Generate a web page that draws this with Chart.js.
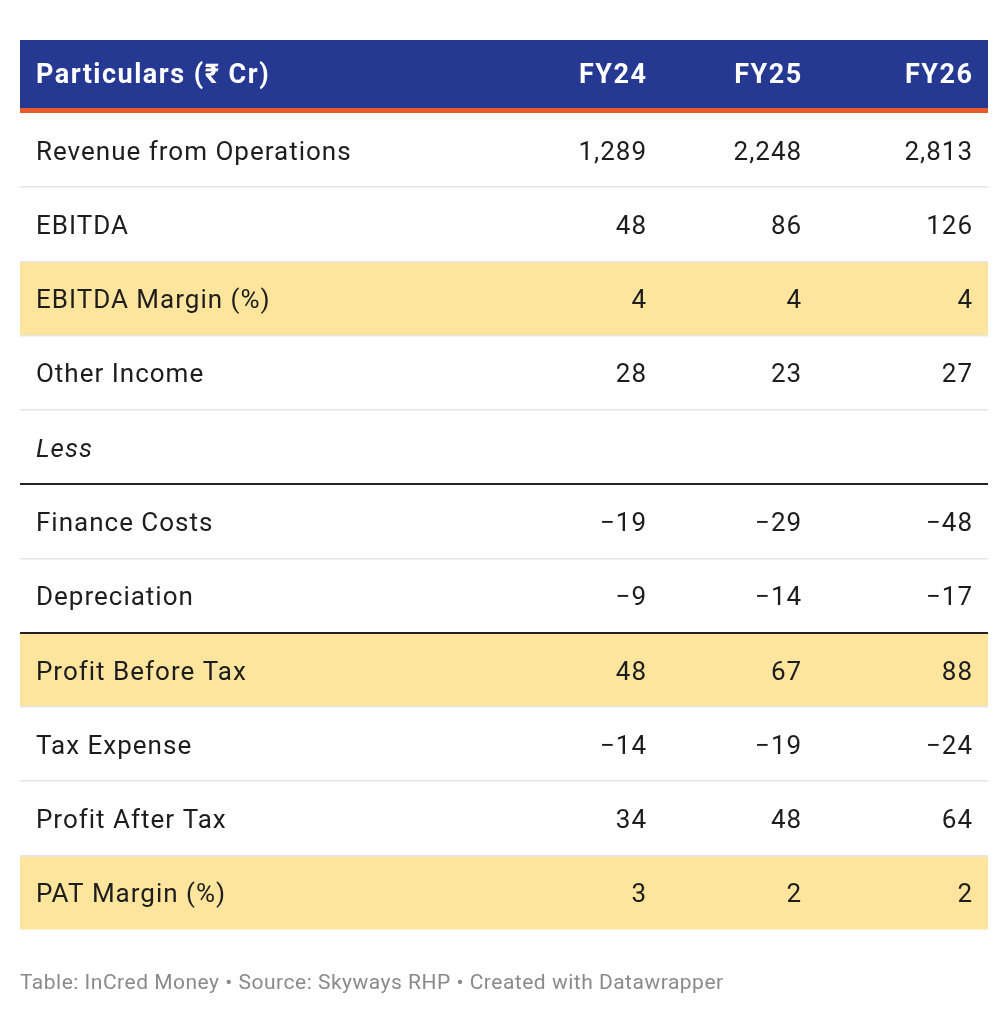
<!DOCTYPE html>
<html>
<head>
<meta charset="utf-8">
<script src="https://cdn.jsdelivr.net/npm/chart.js@4"></script>
<style>
  html, body { margin: 0; padding: 0; background: #fff; }
  #wrap { width: 1008px; height: 1016px; }
</style>
</head>
<body>
<div id="wrap"><canvas id="tbl"></canvas></div>
<script>
const headers = ["Particulars (₹ Cr)", "FY24", "FY25", "FY26"];
const rows = ["Revenue from Operations", "EBITDA", "EBITDA Margin (%)", "Other Income", "Less",
  "Finance Costs", "Depreciation", "Profit Before Tax", "Tax Expense", "Profit After Tax", "PAT Margin (%)"];
const fy24 = ["1,289", "48", "4", "28", "", "−19", "−9", "48", "−14", "34", "3"];
const fy25 = ["2,248", "86", "4", "23", "", "−29", "−14", "67", "−19", "48", "2"];
const fy26 = ["2,813", "126", "4", "27", "", "−48", "−17", "88", "−24", "64", "2"];
const highlighted = ["EBITDA Margin (%)", "Profit Before Tax", "PAT Margin (%)"];
const darkRuleAbove = ["Finance Costs", "Profit Before Tax"];
const footer = "Table: InCred Money • Source: Skyways RHP • Created with Datawrapper";

// column anchors on the x scale (0..1): label left edge, then right edges of value columns
const colAnchors = [0.0165, 0.6467, 0.807, 0.9835];
const colValues = [fy24, fy25, fy26];

const FONT = "Roboto, 'Noto Sans', sans-serif";

// right-aligned text with letter spacing: trailing spacing would shift it, so offset it
function fillRight(ctx, text, x, y, spacing) {
  ctx.fillText(text, x + spacing, y);
}

const tablePlugin = {
  id: "tablePlugin",
  beforeDatasetsDraw(chart) {
    const { ctx, chartArea: a } = chart;
    ctx.save();
    ctx.fillStyle = "#253993";
    ctx.fillRect(a.left, 40, a.right - a.left, a.top - 40 - 5);
    ctx.fillStyle = "#ea5a2a";
    ctx.fillRect(a.left, a.top - 5, a.right - a.left, 5);
    ctx.restore();
  },
  afterDatasetsDraw(chart) {
    const { ctx, chartArea: a, scales } = chart;
    const x = scales.x, y = scales.y;
    const band = (y.getPixelForValue(1) - y.getPixelForValue(0));
    ctx.save();
    // header text
    ctx.fillStyle = "#fff";
    ctx.font = "bold 27px " + FONT;
    ctx.letterSpacing = "1.5px";
    ctx.textBaseline = "middle";
    const hy = (40 + a.top - 5) / 2 + 2;
    ctx.textAlign = "left";
    ctx.fillText(headers[0], x.getPixelForValue(colAnchors[0]), hy);
    ctx.textAlign = "right";
    for (let c = 1; c < 4; c++) fillRight(ctx, headers[c], x.getPixelForValue(colAnchors[c]), hy, 1.5);

    ctx.letterSpacing = "1px";
    rows.forEach((r, i) => {
      const cy = y.getPixelForValue(i);
      const bottom = cy + band / 2;
      if (i < rows.length - 1) {
        ctx.fillStyle = "#e6e6e6";
        ctx.fillRect(a.left, Math.round(bottom) - 1, a.right - a.left, 1.5);
      }
      if (darkRuleAbove.includes(r)) {
        ctx.fillStyle = "#222";
        ctx.fillRect(a.left, Math.round(cy - band / 2) - 1, a.right - a.left, 2);
      }
      ctx.fillStyle = "#1d1d1d";
      ctx.font = (r === "Less" ? "italic " : "") + "26px " + FONT;
      ctx.textAlign = "left";
      ctx.fillText(r, x.getPixelForValue(colAnchors[0]), cy + 3);
      ctx.textAlign = "right";
      colValues.forEach((vals, c) => fillRight(ctx, vals[i], x.getPixelForValue(colAnchors[c + 1]), cy + 3, 1));
    });

    ctx.fillStyle = "#8a8a8a";
    ctx.font = "21px " + FONT;
    ctx.letterSpacing = "0.5px";
    ctx.textAlign = "left";
    ctx.fillText(footer, a.left, 984);
    ctx.restore();
  }
};

new Chart(document.getElementById("tbl"), {
  type: "bar",
  data: {
    labels: rows,
    datasets: [{
      data: rows.map(r => highlighted.includes(r) ? [0, 1] : null),
      backgroundColor: "#fde59d",
      borderWidth: 0,
      barPercentage: 1,
      categoryPercentage: 0.985
    }]
  },
  options: {
    indexAxis: "y",
    responsive: true,
    maintainAspectRatio: false,
    animation: false,
    layout: { padding: { top: 113, bottom: 86, left: 20, right: 20 } },
    plugins: { legend: { display: false }, tooltip: { enabled: false } },
    scales: {
      x: { type: "linear", min: 0, max: 1, display: false },
      y: { type: "category", display: false, offset: true }
    }
  },
  plugins: [tablePlugin]
});
</script>
</body>
</html>
